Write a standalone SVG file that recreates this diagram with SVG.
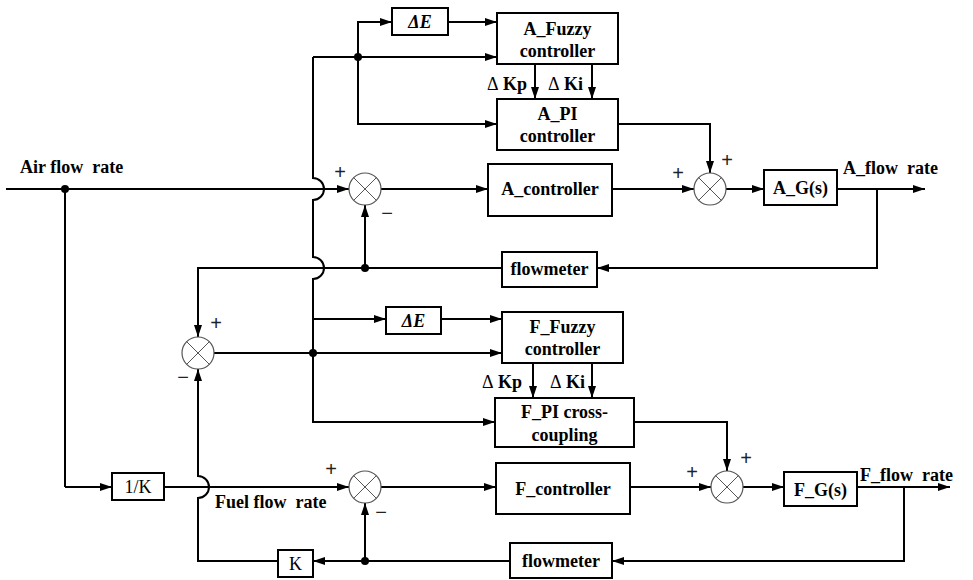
<svg xmlns="http://www.w3.org/2000/svg" width="973" height="580" viewBox="0 0 973 580">
<defs>
<style>
.box{fill:#fff;stroke:#000;stroke-width:2}
.t{font-family:"Liberation Serif","Times New Roman",serif;font-weight:bold;font-size:18px;fill:#000}
.c{text-anchor:middle}
.de{font-family:"Liberation Serif","Times New Roman",serif;font-weight:bold;font-style:italic;font-size:18px;text-anchor:middle}
.k{font-family:"Liberation Serif","Times New Roman",serif;font-size:18px;text-anchor:middle}
.sg{font-family:"Liberation Sans",Arial,sans-serif;font-size:20px;text-anchor:middle;fill:#222}
.sum circle{fill:#fff;stroke:#555;stroke-width:1.2}
.sum path{stroke:#555;stroke-width:1}
.w{fill:none;stroke:#000;stroke-width:2}
.a{marker-end:url(#ar)}
.n{font-weight:normal}
</style>
<marker id="ar" viewBox="0 0 12 8" refX="12" refY="4" markerWidth="12" markerHeight="8" markerUnits="userSpaceOnUse" orient="auto"><path d="M0,0 L12,4 L0,8 z" fill="#000"/></marker>
</defs>
<rect width="973" height="580" fill="#fff"/>

<g id="connectors">
<path class="w a" d="M6,189 H349"/>
<path class="w" d="M65,189 V487"/>
<path class="w a" d="M65,487 H112"/>
<path class="w a" d="M313,57 H497"/>
<path class="w a" d="M313,57 V178 A11,11 0 0 1 313,200 V257 A11,11 0 0 1 313,279 V422 H495"/>
<path class="w a" d="M358,57 V22 H392"/>
<path class="w a" d="M358,57 V124 H497"/>
<path class="w a" d="M448,22 H497"/>
<path class="w a" d="M535,64 V99"/>
<path class="w a" d="M592,64 V99"/>
<path class="w a" d="M618,124 H710 V173"/>
<path class="w a" d="M381,189 H488"/>
<path class="w a" d="M612,189 H694"/>
<path class="w a" d="M726,189 H764"/>
<path class="w a" d="M837,189 H925"/>
<path class="w a" d="M877,189 V268 H597"/>
<path class="w a" d="M502,268 H198 V337"/>
<path class="w a" d="M365,268 V205"/>
<path class="w a" d="M214,353 H502"/>
<path class="w a" d="M313,319 H386"/>
<path class="w a" d="M441,319 H502"/>
<path class="w a" d="M533,363 V398"/>
<path class="w a" d="M592,363 V398"/>
<path class="w a" d="M634,422 H727 V471"/>
<path class="w a" d="M164,487 H349"/>
<path class="w a" d="M381,487 H496"/>
<path class="w a" d="M630,487 H711"/>
<path class="w a" d="M743,487 H784"/>
<path class="w a" d="M857,487 H950"/>
<path class="w a" d="M904,487 V561 H612"/>
<path class="w a" d="M510,561 H313"/>
<path class="w a" d="M365,561 V503"/>
<path class="w a" d="M278,561 H198 V498 A11,11 0 0 0 198,476 V369"/>
<circle cx="65" cy="189" r="4"/>
<circle cx="358" cy="57" r="4"/>
<circle cx="365" cy="268" r="4"/>
<circle cx="313" cy="353" r="4"/>
<circle cx="365" cy="561" r="4"/>
</g>

<g id="labels">
<text class="t" x="20" y="173" xml:space="preserve">Air flow  rate</text>
<text class="t" x="843" y="174" xml:space="preserve">A_flow  rate</text>
<text class="t" x="860" y="481" xml:space="preserve">F_flow  rate</text>
<text class="t" x="215" y="508" xml:space="preserve">Fuel flow  rate</text>
<text class="t" x="487" y="90"><tspan class="n">Δ</tspan> Kp</text>
<text class="t" x="548" y="90"><tspan class="n">Δ</tspan> Ki</text>
<text class="t" x="482" y="388"><tspan class="n">Δ</tspan> Kp</text>
<text class="t" x="550" y="388"><tspan class="n">Δ</tspan> Ki</text>
<text class="sg" x="340" y="179">+</text>
<text class="sg" x="387" y="220">−</text>
<text class="sg" x="678" y="180">+</text>
<text class="sg" x="727" y="167">+</text>
<text class="sg" x="216" y="330">+</text>
<text class="sg" x="183" y="384">−</text>
<text class="sg" x="331" y="476">+</text>
<text class="sg" x="381" y="519">−</text>
<text class="sg" x="692" y="479">+</text>
<text class="sg" x="746" y="465">+</text>
</g>

<g id="dE_A"><rect class="box" x="392" y="8" width="56" height="27"/><text class="de" x="420" y="28">ΔE</text></g>
<g id="A_Fuzzy"><rect class="box" x="497" y="13" width="121" height="51"/><text class="t c" x="557.5" y="35">A_Fuzzy</text><text class="t c" x="557.5" y="57">controller</text></g>
<g id="A_PI"><rect class="box" x="497" y="99" width="121" height="51"/><text class="t c" x="557.5" y="120">A_PI</text><text class="t c" x="557.5" y="142">controller</text></g>
<g id="A_controller"><rect class="box" x="488" y="164" width="124" height="52"/><text class="t c" x="550" y="195">A_controller</text></g>
<g id="A_G"><rect class="box" x="764" y="170" width="73" height="35"/><text class="t c" x="800.5" y="194">A_G(s)</text></g>
<g id="flowmeter_A"><rect class="box" x="502" y="252" width="95" height="35"/><text class="t c" x="549.5" y="275">flowmeter</text></g>
<g id="sumA1" class="sum" transform="translate(365,189)"><circle r="16"/><path d="M-11.3,-11.3 L11.3,11.3 M11.3,-11.3 L-11.3,11.3"/></g>
<g id="sumA2" class="sum" transform="translate(710,189)"><circle r="16"/><path d="M-11.3,-11.3 L11.3,11.3 M11.3,-11.3 L-11.3,11.3"/></g>

<g id="sumE" class="sum" transform="translate(198,353)"><circle r="16"/><path d="M-11.3,-11.3 L11.3,11.3 M11.3,-11.3 L-11.3,11.3"/></g>
<g id="dE_F"><rect class="box" x="386" y="307" width="55" height="27"/><text class="de" x="413.5" y="327">ΔE</text></g>
<g id="F_Fuzzy"><rect class="box" x="502" y="312" width="121" height="51"/><text class="t c" x="562.5" y="333">F_Fuzzy</text><text class="t c" x="562.5" y="355">controller</text></g>
<g id="F_PI"><rect class="box" x="495" y="398" width="139" height="49"/><text class="t c" x="564.5" y="418">F_PI cross-</text><text class="t c" x="564.5" y="441">coupling</text></g>

<g id="invK"><rect class="box" x="112" y="473" width="52" height="27"/><text class="k" x="138" y="493">1/K</text></g>
<g id="sumF1" class="sum" transform="translate(365,487)"><circle r="16"/><path d="M-11.3,-11.3 L11.3,11.3 M11.3,-11.3 L-11.3,11.3"/></g>
<g id="F_controller"><rect class="box" x="496" y="463" width="134" height="51"/><text class="t c" x="563" y="495">F_controller</text></g>
<g id="sumF2" class="sum" transform="translate(727,487)"><circle r="16"/><path d="M-11.3,-11.3 L11.3,11.3 M11.3,-11.3 L-11.3,11.3"/></g>
<g id="F_G"><rect class="box" x="784" y="472" width="73" height="34"/><text class="t c" x="820.5" y="496">F_G(s)</text></g>
<g id="flowmeter_F"><rect class="box" x="510" y="543" width="102" height="35"/><text class="t c" x="561" y="567">flowmeter</text></g>
<g id="K"><rect class="box" x="278" y="550" width="35" height="27"/><text class="k" x="295.5" y="570">K</text></g>
</svg>
